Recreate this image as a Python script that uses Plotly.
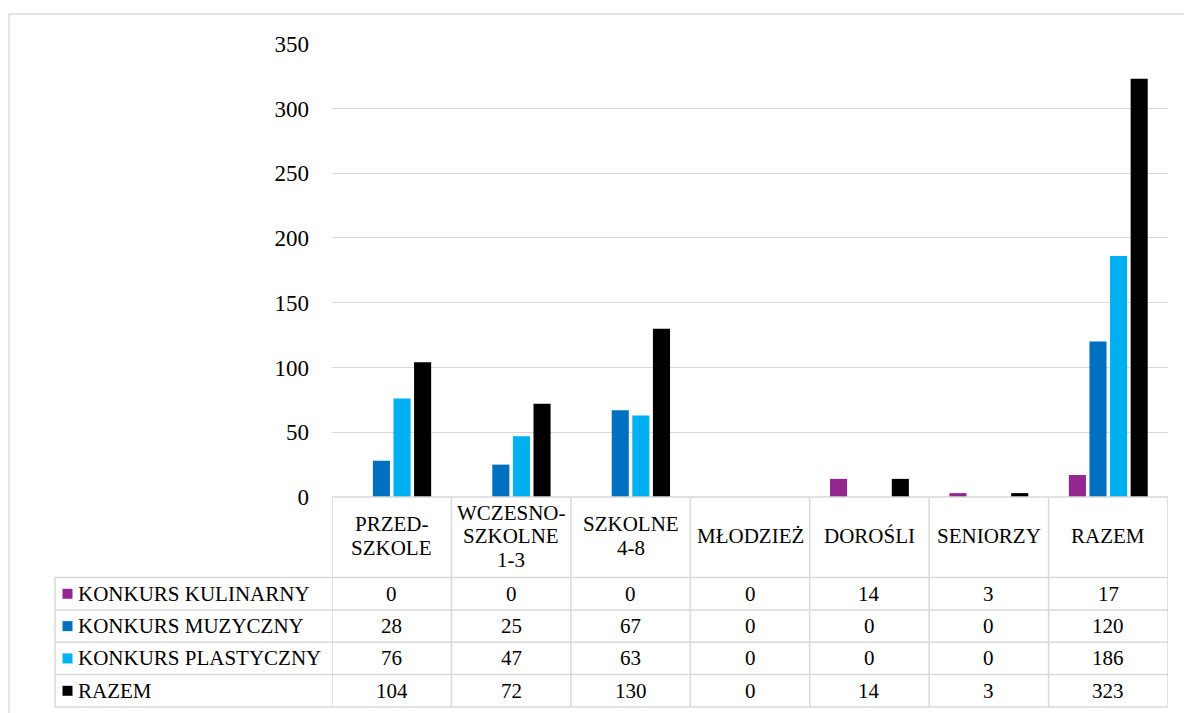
import plotly.graph_objects as go

# categories (table header labels) and series values
categories = ["PRZED-\nSZKOLE", "WCZESNO-\nSZKOLNE\n1-3", "SZKOLNE\n4-8",
              "MŁODZIEŻ", "DOROŚLI", "SENIORZY", "RAZEM"]
series_names = ["KONKURS KULINARNY", "KONKURS MUZYCZNY", "KONKURS PLASTYCZNY", "RAZEM"]
kulinarny = [0, 0, 0, 0, 14, 3, 17]
muzyczny = [28, 25, 67, 0, 0, 0, 120]
plastyczny = [76, 47, 63, 0, 0, 0, 186]
razem = [104, 72, 130, 0, 14, 3, 323]
colors = ["#92278F", "#0070C0", "#00B0F0", "#000000"]
y_ticks = [0, 50, 100, 150, 200, 250, 300, 350]

W, H = 1184, 713
FONT = "Liberation Serif"
GRID = "#D9D9D9"
TSIZE = 21


def px(x):
    return x / W


def py(y):
    return (H - y) / H


fig = go.Figure()
values = [kulinarny, muzyczny, plastyczny, razem]
for name, vals, col in zip(series_names, values, colors):
    fig.add_trace(go.Bar(x=list(range(len(categories))), y=vals, name=name,
                         marker=dict(color=col, line=dict(width=0))))

# table geometry (pixels)
plot_l, plot_r = 332, 1168
axis_y = 497
row_lines = [577.5, 610, 642.3, 674.6, 707]
legend_l = 55

shapes = []
# outer chart frame
shapes.append(dict(type="rect", xref="paper", yref="paper", x0=px(9), x1=px(W + 20),
                   y0=py(H + 20), y1=py(14), line=dict(color=GRID, width=1.3)))
# axis / header top line
shapes.append(dict(type="line", xref="paper", yref="paper", x0=px(plot_l), x1=px(plot_r),
                   y0=py(axis_y), y1=py(axis_y), line=dict(color=GRID, width=1.5)))
# horizontal row lines
for yl in row_lines:
    shapes.append(dict(type="line", xref="paper", yref="paper", x0=px(legend_l), x1=px(plot_r),
                       y0=py(yl), y1=py(yl), line=dict(color=GRID, width=1.5)))
# vertical column lines in category coordinates
for i in range(len(categories) + 1):
    shapes.append(dict(type="line", xref="x", yref="paper", x0=i - 0.5, x1=i - 0.5,
                       y0=py(axis_y), y1=py(row_lines[-1]), line=dict(color=GRID, width=1.5)))
# legend column left line
shapes.append(dict(type="line", xref="paper", yref="paper", x0=px(legend_l), x1=px(legend_l),
                   y0=py(row_lines[0]), y1=py(row_lines[-1]), line=dict(color=GRID, width=1.5)))

annotations = []
header_mid = 536
line_step = 23.5
for i, cat in enumerate(categories):
    parts = cat.split("\n")
    for k, part in enumerate(parts):
        yk = header_mid + (k - (len(parts) - 1) / 2) * line_step
        annotations.append(dict(x=i, xref="x", y=py(yk), yref="paper", text=part,
                                showarrow=False, xanchor="center", yanchor="middle",
                                font=dict(family=FONT, size=TSIZE, color="#000000")))
for r, (name, vals, col) in enumerate(zip(series_names, values, colors)):
    yc = (row_lines[r] + row_lines[r + 1]) / 2
    shapes.append(dict(type="rect", xref="paper", yref="paper", x0=px(62.5), x1=px(72.5),
                       y0=py(yc + 5), y1=py(yc - 5), fillcolor=col, line=dict(width=0)))
    annotations.append(dict(x=px(75.5), xref="paper", y=py(yc), yref="paper", text=name,
                            showarrow=False, xanchor="left", yanchor="middle",
                            font=dict(family=FONT, size=TSIZE, color="#000000")))
    for i, v in enumerate(vals):
        annotations.append(dict(x=i, xref="x", y=py(yc), yref="paper", text=str(v),
                                showarrow=False, xanchor="center", yanchor="middle",
                                font=dict(family=FONT, size=TSIZE, color="#000000")))

fig.update_layout(
    width=W, height=H,
    margin=dict(l=0, r=0, t=0, b=0, pad=0),
    paper_bgcolor="white", plot_bgcolor="white",
    barmode="group", bargap=0.31, bargroupgap=0.17,
    showlegend=False,
    font=dict(family=FONT, color="#000000"),
    xaxis=dict(domain=[px(plot_l), px(plot_r)], range=[-0.5, len(categories) - 0.5],
               showticklabels=False, showgrid=False, zeroline=False, showline=False,
               automargin=False, fixedrange=True),
    yaxis=dict(domain=[py(axis_y), py(43.7)], range=[0, 350], tickvals=y_ticks,
               showgrid=True, gridcolor=GRID, gridwidth=1.3, zeroline=False, showline=False,
               tickfont=dict(family=FONT, size=23, color="#000000"), ticklabelstandoff=22,
               automargin=False, fixedrange=True),
    shapes=shapes,
    annotations=annotations,
)

fig.write_html("out.html", config={"displayModeBar": False},
               post_script="document.body.style.margin='0';")
